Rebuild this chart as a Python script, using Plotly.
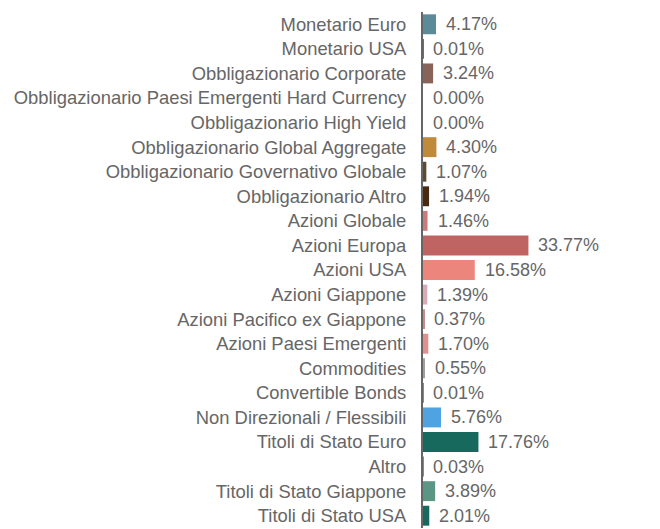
import plotly.graph_objects as go

categories = ["Monetario Euro", "Monetario USA", "Obbligazionario Corporate",
              "Obbligazionario Paesi Emergenti Hard Currency", "Obbligazionario High Yield",
              "Obbligazionario Global Aggregate", "Obbligazionario Governativo Globale",
              "Obbligazionario Altro", "Azioni Globale", "Azioni Europa", "Azioni USA",
              "Azioni Giappone", "Azioni Pacifico ex Giappone", "Azioni Paesi Emergenti",
              "Commodities", "Convertible Bonds", "Non Direzionali / Flessibili",
              "Titoli di Stato Euro", "Altro", "Titoli di Stato Giappone", "Titoli di Stato USA"]
values = [4.17, 0.01, 3.24, 0.00, 0.00, 4.30, 1.07, 1.94, 1.46, 33.77, 16.58, 1.39,
          0.37, 1.70, 0.55, 0.01, 5.76, 17.76, 0.03, 3.89, 2.01]
colors = ["#5b8a98", "#4a7a8a", "#8a6358", "#888888", "#888888", "#c08a3b", "#5e4a2e",
          "#4b2a12", "#cc7b7d", "#bf6462", "#ec857b", "#d8abb5", "#c98a8a", "#e19090",
          "#a0a0a0", "#888888", "#4fa3e0", "#17695e", "#888888", "#5a9683", "#17695e"]

FONT = "Liberation Sans, Arial, sans-serif"

fig = go.Figure(go.Bar(
    y=categories, x=values, orientation="h",
    marker=dict(color=colors, line=dict(width=0)),
    hoverinfo="x+y",
))
for c, v in zip(categories, values):
    fig.add_annotation(x=v, y=c, text=f"{v:.2f}%", showarrow=False,
                       xanchor="left", xshift=8, yanchor="middle",
                       font=dict(family=FONT, size=18, color="#666666"))
fig.update_layout(
    width=660, height=529,
    margin=dict(l=423, r=10, t=12, b=1, autoexpand=False),
    plot_bgcolor="white", paper_bgcolor="white",
    bargap=0.19, showlegend=False,
    font=dict(family=FONT, size=18, color="#666666"),
    xaxis=dict(range=[0, 72.7], visible=False, fixedrange=True, automargin=False),
    yaxis=dict(autorange="reversed", showline=True, linecolor="#666666", linewidth=2,
               ticks="outside", ticklen=11, tickcolor="white", showgrid=False,
               automargin=False, fixedrange=True, layer="above traces",
               tickfont=dict(family=FONT, size=18.4, color="#666666")),
)
fig.write_html("out.html", config={"displayModeBar": False},
               post_script="document.body.style.margin='0';document.body.style.overflow='hidden';")
